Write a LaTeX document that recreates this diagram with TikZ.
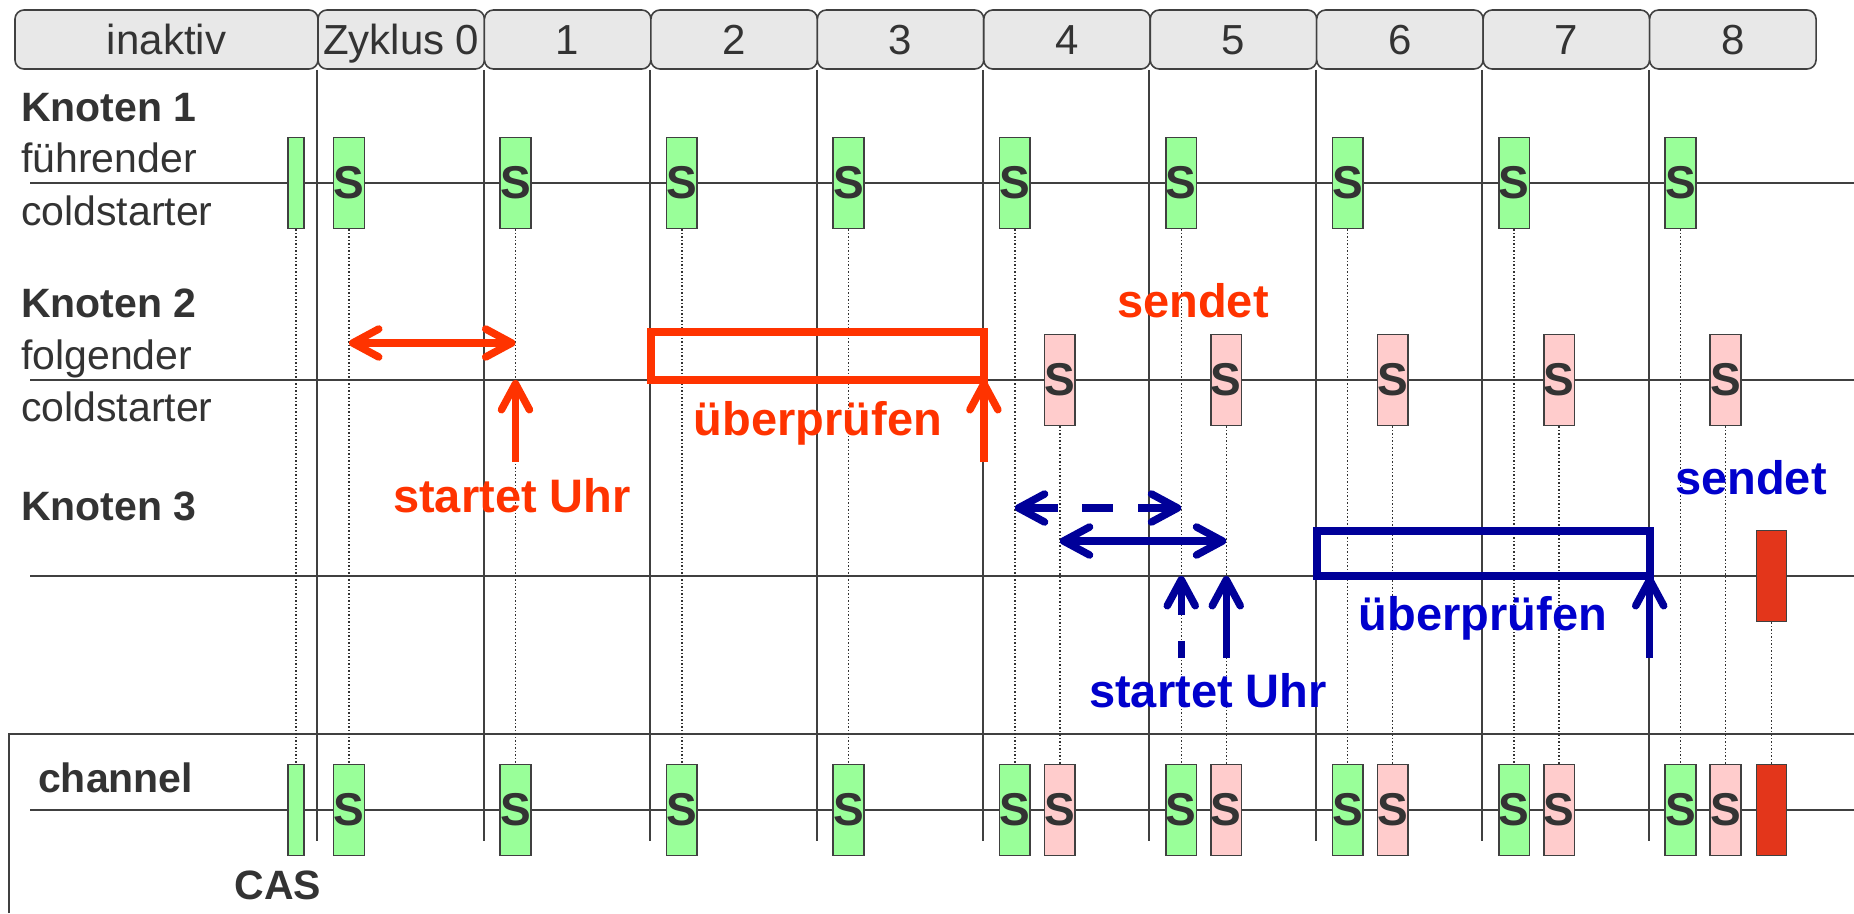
\documentclass[tikz,border=0pt]{standalone}
\usepackage{fontspec}
\setmainfont{Liberation Sans}
\usetikzlibrary{arrows.meta,positioning}

\definecolor{txtgray}{HTML}{333333}
\definecolor{rulegray}{HTML}{404040}
\definecolor{headfill}{HTML}{E8E8E8}
\definecolor{syncgreen}{HTML}{99FF99}
\definecolor{syncpink}{HTML}{FFCCCC}
\definecolor{sendred}{HTML}{E3361B}
\definecolor{uhrred}{HTML}{FF3300}
\definecolor{uhrblue}{HTML}{000099}
\definecolor{txtblue}{HTML}{0000CC}

\tikzset{
  uhrtip/.tip={Straight Barb[length=26pt,width=28pt,round]},
  zyklus/.style={draw=rulegray,line width=1.6pt,fill=headfill,rounded corners=9pt,
    minimum height=59pt,inner sep=0pt,text=txtgray,text height=30pt,text depth=0pt,
    font=\fontsize{42}{42}\selectfont},
  slot/.style={draw=rulegray,line width=1.6pt,minimum width=30pt,minimum height=91pt,
    inner sep=0pt,text=txtgray,font=\fontsize{46}{46}\selectfont\bfseries},
  zeile/.style={draw=rulegray,line width=2.2pt},
  takt/.style={draw=rulegray,line width=2pt},
  lot/.style={draw=txtgray,line width=1.5pt,dash pattern=on 1.5pt off 2pt},
  lbl/.style={anchor=base west,inner sep=0pt,text=txtgray,font=\fontsize{41}{41}\selectfont},
  lblb/.style={lbl,font=\fontsize{41}{41}\selectfont\bfseries},
  hinweis/.style={anchor=base,inner sep=0pt,font=\fontsize{47}{47}\selectfont\bfseries},
  pfeil/.style={line width=7.5pt,-uhrtip},
  doppel/.style={line width=7.5pt,uhrtip-uhrtip},
  pruef/.style={draw,line width=8pt,inner sep=0pt,outer sep=0pt},
}

\begin{document}
\begin{tikzpicture}[x=1pt,y=-1pt]
\useasboundingbox (0,0) rectangle (1854,913);

% Kopfzeile mit den Zyklen
\node[zyklus,minimum width=303pt] (inaktiv) at (166.5,39.5) {inaktiv};
\node[zyklus,minimum width=166.45pt] (z0) at (401.2,39.5) {Zyklus 0};
\foreach \k in {1,...,8}
  \node[zyklus,minimum width=166.45pt] (z\k) at (401.2+166.45*\k,39.5) {\k};

% Zyklusgrenzen und Zeitachsen
\coordinate (cyend) at (0,841);
\foreach \k in {0,...,8}
  \draw[takt] (z\k.south west) -- (z\k.south west |- cyend);
\foreach \y in {183,380,576,810}
  \draw[zeile] (30,\y) -- (1854,\y);
\draw[zeile] (9,913) |- (1854,734);

% Frames von Knoten 1 und auf dem Kanal
\node[slot,fill=syncgreen,minimum width=16pt] (k1cas) at (296,183) {};
\node[slot,fill=syncgreen,minimum width=16pt] (chcas) at (296,810) {};
\draw[lot] (k1cas) -- (chcas);
\foreach \k in {0,...,8} {
  \node[slot,fill=syncgreen] (k1s\k) at (349+166.45*\k,183) {S};
  \node[slot,fill=syncgreen] (chg\k) at (349+166.45*\k,810) {S};
  \draw[lot] (k1s\k) -- (chg\k);
}
% Frames von Knoten 2
\foreach \k in {4,...,8} {
  \node[slot,fill=syncpink] (k2s\k) at (394+166.45*\k,380) {S};
  \node[slot,fill=syncpink] (chp\k) at (394+166.45*\k,810) {S};
  \draw[lot] (k2s\k) -- (chp\k);
}
% Knoten 3 sendet
\node[slot,fill=sendred] (k3rot) at (1771.6,576) {};
\node[slot,fill=sendred] (chrot) at (1771.6,810) {};
\draw[lot] (k3rot) -- (chrot);

% Beschriftung links
\node[lblb] (k1) at (21,121) {Knoten 1};
\node[lbl] (k1f) at (21,172) {führender};
\node[lbl] (k1c) at (21,225) {coldstarter};
\node[lblb] (k2) at (21,317) {Knoten 2};
\node[lbl] (k2f) at (21,369) {folgender};
\node[lbl] (k2c) at (21,421) {coldstarter};
\node[lblb] (k3) at (21,520) {Knoten 3};
\node[lblb] (chan) at (38,792) {channel};
\node[lblb,anchor=base] (cas) at (278,899) {CAS};

% Knoten 2: Uhr starten, pruefen, senden
\coordinate (k2lvl) at (0,343);
\coordinate (k2uhr) at (0,462);
\draw[doppel,uhrred] (k1s0 |- k2lvl) -- (k1s1 |- k2lvl);
\node[pruef,draw=uhrred,minimum width=333pt,minimum height=48pt] (k2chk) at (817.4,356) {};
\draw[pfeil,uhrred] (k1s1 |- k2uhr) -- (k1s1 |- k2chk.south);
\draw[pfeil,uhrred] (k2chk.south east |- k2uhr) -- (k2chk.south east);
\node[hinweis,text=uhrred] (k2start) at (512,512) {startet Uhr};
\node[hinweis,text=uhrred] (k2pruef) at (818,435) {überprüfen};
\node[hinweis,text=uhrred] (k2send) at (1193,317) {sendet};

% Knoten 3: Uhr starten, pruefen, senden
\coordinate (k3dash) at (0,508);
\coordinate (k3sync) at (0,541);
\coordinate (k3uhr) at (0,658);
\draw[doppel,uhrblue,dash pattern=on 36pt off 24pt on 31pt off 25pt on 80pt]
  (k1s4 |- k3dash) -- (k1s5 |- k3dash);
\draw[doppel,uhrblue] (k2s4 |- k3sync) -- (k2s5 |- k3sync);
\node[pruef,draw=uhrblue,minimum width=333pt,minimum height=45pt] (k3chk) at (1483.2,553.5) {};
\draw[pfeil,uhrblue,dash pattern=on 17pt off 26pt on 80pt] (k1s5 |- k3uhr) -- (k1s5 |- k3chk.south);
\draw[pfeil,uhrblue] (k2s5 |- k3uhr) -- (k2s5 |- k3chk.south);
\draw[pfeil,uhrblue] (k3chk.south east |- k3uhr) -- (k3chk.south east);
\node[hinweis,text=txtblue] (k3start) at (1208,707) {startet Uhr};
\node[hinweis,text=txtblue] (k3pruef) at (1483,630) {überprüfen};
\node[hinweis,text=txtblue] (k3send) at (1751,494) {sendet};
\end{tikzpicture}
\end{document}
